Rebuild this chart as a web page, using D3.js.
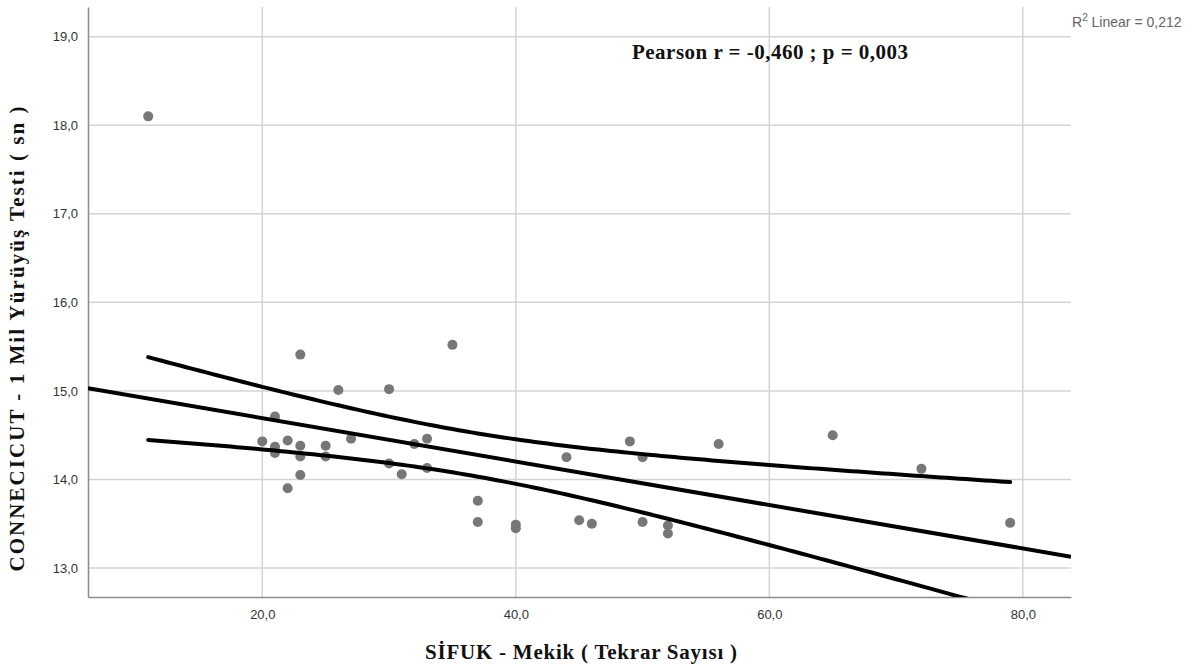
<!DOCTYPE html>
<html>
<head>
<meta charset="utf-8">
<script src="https://cdn.jsdelivr.net/npm/d3@7"></script>
<style>
  body { margin: 0; background: #fff; }
  .tick text { font-family: 'Liberation Sans', Arial, sans-serif; font-size: 13px; fill: #333; }
  .axis-title { font-family: 'Liberation Serif', 'Times New Roman', serif; font-weight: bold; font-size: 21px; fill: #111; }
</style>
</head>
<body>
<div id="chart"></div>
<script>
// Data
const mekik = [11, 20, 21, 21, 21, 22, 22, 23, 23, 23, 23, 25, 25, 26, 27, 30, 30, 31, 32, 33,
  33, 35, 37, 37, 40, 40, 44, 45, 46, 49, 50, 50, 52, 52, 56, 65, 72, 79];
const yuruyus = [18.10, 14.43, 14.71, 14.37, 14.30, 14.44, 13.90, 15.41, 14.38, 14.26, 14.05, 14.38, 14.26, 15.01, 14.46, 15.02, 14.18, 14.06, 14.40, 14.46,
  14.13, 15.52, 13.76, 13.52, 13.49, 13.45, 14.25, 13.54, 13.50, 14.43, 14.25, 13.52, 13.48, 13.39, 14.40, 14.50, 14.12, 13.51];
const xTicks = [20, 40, 60, 80];
const yTicks = [13, 14, 15, 16, 17, 18, 19];
const tCrit = 2.028; // t(0.975, df = 36)

const width = 1201, height = 667;
const margin = {top: 7, right: 130, bottom: 70, left: 88};

const svg = d3.select('#chart').append('svg')
  .attr('width', width)
  .attr('height', height);

const x = d3.scaleLinear().domain([6.25, 83.8]).range([margin.left, width - margin.right]);
const y = d3.scaleLinear().domain([12.673, 19.335]).range([height - margin.bottom, margin.top]);

const points = mekik.map((d, i) => ({x: d, y: yuruyus[i]}));

// Linear regression + 95% mean confidence band
const n = points.length;
const mx = d3.mean(points, d => d.x), my = d3.mean(points, d => d.y);
const sxx = d3.sum(points, d => (d.x - mx) ** 2);
const sxy = d3.sum(points, d => (d.x - mx) * (d.y - my));
const slope = sxy / sxx, intercept = my - slope * mx;
const se = Math.sqrt(d3.sum(points, d => (d.y - intercept - slope * d.x) ** 2) / (n - 2));
const fit = v => intercept + slope * v;
const band = v => tCrit * se * Math.sqrt(1 / n + (v - mx) ** 2 / sxx);

// Grid
svg.append('g')
  .selectAll('line')
  .data(yTicks)
  .join('line')
    .attr('x1', margin.left).attr('x2', width - margin.right)
    .attr('y1', d => y(d)).attr('y2', d => y(d))
    .attr('stroke', '#d4d4d4').attr('stroke-width', 1.5);
svg.append('g')
  .selectAll('line')
  .data(xTicks)
  .join('line')
    .attr('x1', d => x(d)).attr('x2', d => x(d))
    .attr('y1', margin.top).attr('y2', height - margin.bottom)
    .attr('stroke', '#d4d4d4').attr('stroke-width', 1.5);

// Axes
const fmt = d => d3.format('.1f')(d).replace('.', ',');
svg.append('g')
    .attr('transform', `translate(0,${height - margin.bottom})`)
    .call(d3.axisBottom(x).tickValues(xTicks).tickSize(0).tickPadding(13).tickFormat(fmt))
    .call(g => g.select('.domain').attr('stroke', '#8c8c8c').attr('stroke-width', 1.5));
svg.append('g')
    .attr('transform', `translate(${margin.left},0)`)
    .call(d3.axisLeft(y).tickValues(yTicks).tickSize(0).tickPadding(10).tickFormat(fmt))
    .call(g => g.select('.domain').attr('stroke', '#8c8c8c').attr('stroke-width', 1.5));

// Points
svg.append('g')
  .selectAll('circle')
  .data(points)
  .join('circle')
    .attr('cx', d => x(d.x))
    .attr('cy', d => y(d.y))
    .attr('r', 5)
    .attr('fill', '#777');

// Fit and confidence lines
const plot = svg.append('g');
plot.append('clipPath').attr('id', 'clip')
  .append('rect')
    .attr('x', margin.left).attr('y', margin.top)
    .attr('width', width - margin.left - margin.right)
    .attr('height', height - margin.top - margin.bottom);

const line = d3.line().x(d => x(d[0])).y(d => y(d[1]));
const [xmin, xmax] = d3.extent(mekik);
const fitX = x.domain();
const bandX = d3.range(xmin, xmax + 0.01, 0.5);

plot.append('path')
    .attr('d', line(fitX.map(v => [v, fit(v)])))
    .attr('clip-path', 'url(#clip)')
    .attr('fill', 'none').attr('stroke', '#000').attr('stroke-width', 4);
[1, -1].forEach(s => {
  plot.append('path')
      .attr('d', line(bandX.map(v => [v, fit(v) + s * band(v)])))
      .attr('clip-path', 'url(#clip)')
      .attr('fill', 'none').attr('stroke', '#000').attr('stroke-width', 4)
      .attr('stroke-linecap', 'round');
});

// Texts
svg.append('text')
    .attr('class', 'axis-title')
    .attr('x', 581)
    .attr('y', 659)
    .attr('text-anchor', 'middle')
    .attr('textLength', 312)
    .text('SİFUK - Mekik ( Tekrar Sayısı )');
svg.append('text')
    .attr('class', 'axis-title')
    .attr('transform', 'translate(24,339) rotate(-90)')
    .attr('text-anchor', 'middle')
    .attr('textLength', 465)
    .text('CONNECICUT - 1 Mil Yürüyüş Testi ( sn )');
svg.append('text')
    .attr('class', 'axis-title')
    .attr('x', 632).attr('y', 59)
    .attr('textLength', 276)
    .text('Pearson r = -0,460 ; p = 0,003');

const r2 = svg.append('text')
    .attr('x', 1072).attr('y', 27)
    .style('font-family', "'Liberation Sans', Arial, sans-serif")
    .style('font-size', '14px')
    .attr('fill', '#666');
r2.append('tspan').text('R');
r2.append('tspan').attr('dy', -6).style('font-size', '10px').text('2');
r2.append('tspan').attr('dy', 6).text(' Linear = 0,212');
</script>
</body>
</html>
